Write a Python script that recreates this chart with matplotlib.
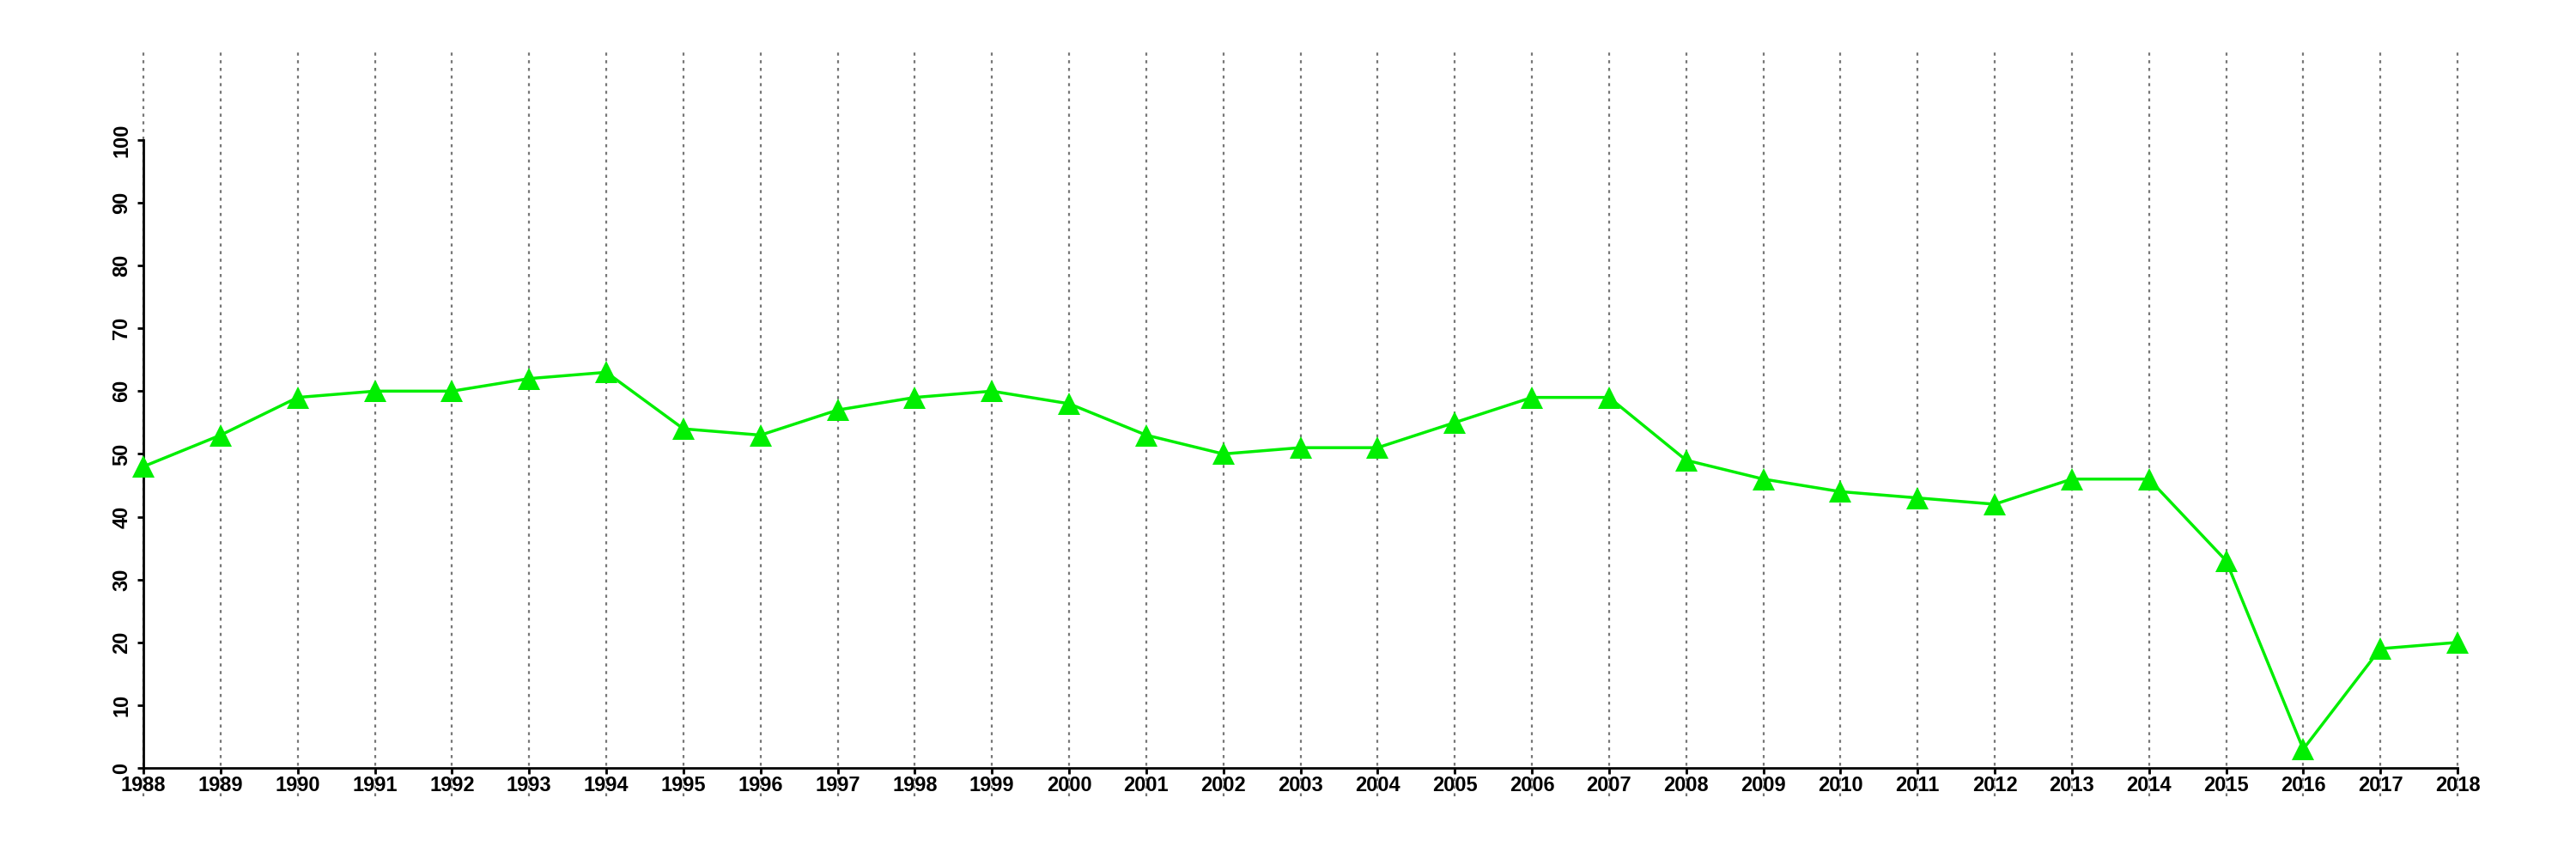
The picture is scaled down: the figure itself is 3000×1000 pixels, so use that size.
import matplotlib
matplotlib.use("Agg")
import matplotlib.pyplot as plt

years = list(range(1988, 2019))
values = [48, 53, 59, 60, 60, 62, 63, 54, 53, 57, 59, 60, 58, 53, 50, 51,
          51, 55, 59, 59, 49, 46, 44, 43, 42, 46, 46, 33, 3, 19, 20]
y_ticks = list(range(0, 101, 10))

plt.rcParams['font.family'] = ['Liberation Sans', 'DejaVu Sans']

fig = plt.figure(figsize=(30, 10), dpi=100)
ax = fig.add_axes([0.0557, 0.073, 0.8983, 0.868])

# dotted vertical guides at every year
for yr in years:
    ax.axvline(yr, color='#777777', linestyle=(0, (1.6, 2.4)), linewidth=1.6,
               zorder=1, clip_on=False)

ax.plot(years, values, color='#00ee00', linewidth=2.5, marker='^',
        markersize=19, markeredgewidth=0, clip_on=False, zorder=3)

ax.set_xlim(1988, 2018)
ax.set_ylim(-4.5, 114.2)

ax.set_xticks(years)
ax.set_xticklabels([str(y) for y in years])
ax.set_yticks(y_ticks)
ax.set_yticklabels([str(v) for v in y_ticks], rotation=90, va='center')

for s in ['top', 'right']:
    ax.spines[s].set_visible(False)
ax.spines['bottom'].set_position(('data', 0))
ax.spines['bottom'].set_bounds(1988, 2018)
ax.spines['left'].set_bounds(0, 100)
ax.spines['bottom'].set_linewidth(2)
ax.spines['left'].set_linewidth(2)

ax.tick_params(axis='both', length=5, width=2, labelsize=17)
ax.tick_params(axis='x', pad=1.5)
ax.tick_params(axis='y', pad=5)
for lbl in ax.get_xticklabels() + ax.get_yticklabels():
    lbl.set_fontweight('bold')

fig.savefig('out.png', dpi=100)
